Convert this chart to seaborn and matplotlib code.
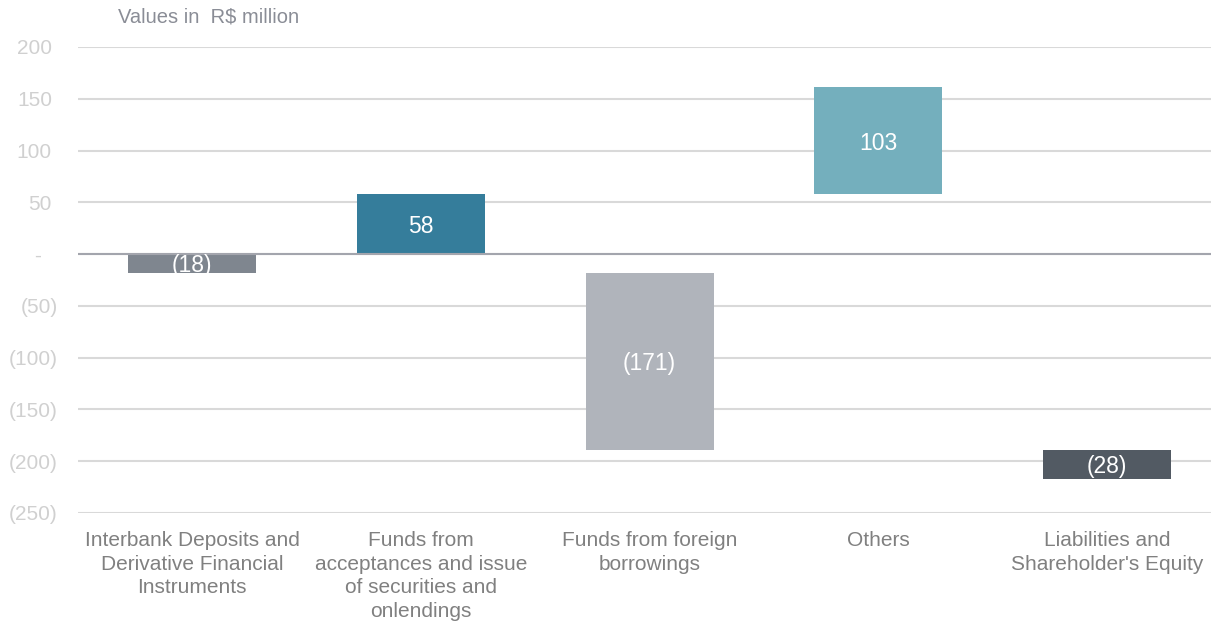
import pandas as pd
import numpy as np
import matplotlib.pyplot as plt
import seaborn as sns

# 数据：每根柱子的起点和变化值
categories = ['Interbank Deposits and\nDerivative Financial\nInstruments',
              'Funds from\nacceptances and issue\nof securities and\nonlendings',
              'Funds from foreign\nborrowings',
              'Others',
              'Liabilities and\nShareholder\'s Equity']
changes = [-18, 58, -171, 103, -28]
starts = [0, 0, -18, 58, -189]
bar_labels = ['(18)', '58', '(171)', '103', '(28)']
bar_colors = ['#7f868f', '#357d9b', '#b0b4bb', '#74afbd', '#525a63']
y_ticks = [200, 150, 100, 50, 0, -50, -100, -150, -200, -250]
y_ticklabels = ['200', '150', '100', '50', '-', '(50)', '(100)', '(150)', '(200)', '(250)']

sns.set_style('white')
plt.rcParams['font.family'] = ['Liberation Sans', 'DejaVu Sans']

df = pd.DataFrame({'cat': categories, 'change': changes, 'start': starts})

W, H = 1211, 621
fig = plt.figure(figsize=(W / 100, H / 100), dpi=100)
ax_left = 78
ax = fig.add_axes([ax_left / W, 1 - 513 / H, 1 - ax_left / W, (513 - 47) / H])
ax_w = W - ax_left

# 网格线
for y in y_ticks:
    ax.axhline(y, color='#d9d9d9', lw=1.5, zorder=0)

sns.barplot(data=df, x='cat', y='change', bottom=df['start'].values,
            color='gray', saturation=1, width=0.56, errorbar=None, ax=ax, zorder=2)
for p, c in zip(ax.patches, bar_colors):
    p.set_facecolor(c)
    p.set_edgecolor('none')

ax.axhline(0, color='#a3a5ad', lw=1.5, zorder=3)

# 柱内标签
for i, (s, v, lab) in enumerate(zip(starts, changes, bar_labels)):
    ax.text(i, s + v / 2, lab, ha='center', va='center_baseline', color='white',
            fontsize=16.5, zorder=4)

ax.set_ylim(-250, 200)
ax.set_xlim(-0.5, 4.455)

# y 轴标签（会计格式：正数右侧留出括号的位置）
ax.set_yticks([])
ytrans = ax.get_yaxis_transform()
for y, lab in zip(y_ticks, y_ticklabels):
    if lab.startswith('('):
        right_px = 58
    elif lab == '-':
        right_px = 41
    else:
        right_px = 52
    ax.text(-(ax_left - right_px) / ax_w, y, lab, transform=ytrans, ha='right',
            va='center_baseline', color='#d0d0d0', fontsize=15, clip_on=False)

ax.tick_params(axis='x', length=0, pad=13, labelsize=15, labelcolor='#808080')
for t in ax.get_xticklabels():
    t.set_linespacing(1.3)
ax.set_xlabel('')
ax.set_ylabel('')
for sp in ax.spines.values():
    sp.set_visible(False)

fig.text(118 / W, 1 - 17 / H, 'Values in  R$ million', ha='left', va='center',
         color='#8a8d96', fontsize=14.5)

plt.savefig('out.png', dpi=100)
plt.close()
